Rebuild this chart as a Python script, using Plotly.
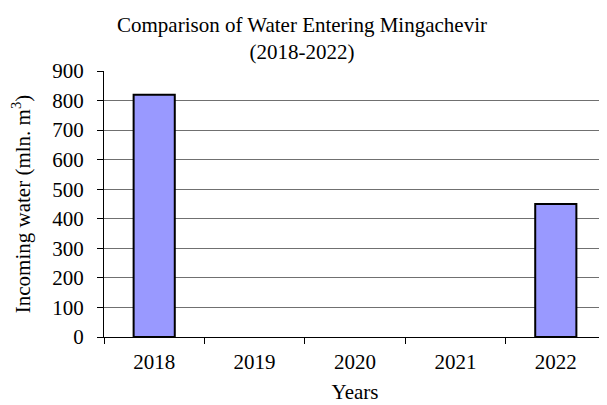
import plotly.graph_objects as go

years = ["2018", "2019", "2020", "2021", "2022"]
incoming_water = [820, 0, 0, 0, 450]
y_ticks = [0, 100, 200, 300, 400, 500, 600, 700, 800, 900]

font = "Liberation Serif"
FS = 21

# page body has an 8px default margin, so the figure is sized to fit the window
W, H = 599, 397

outline_widths = [2 if v > 0 else 0 for v in incoming_water]

fig = go.Figure(
    go.Bar(
        x=years,
        y=incoming_water,
        width=0.41,
        marker=dict(color="#9999FF", line=dict(color="black", width=outline_widths)),
    )
)

fig.update_layout(
    width=W,
    height=H,
    plot_bgcolor="white",
    paper_bgcolor="white",
    margin=dict(l=96, r=1, t=63, b=68, autoexpand=False),
    font=dict(family=font, size=FS, color="black"),
    title=dict(
        text="Comparison of Water Entering Mingachevir<br>(2018-2022)",
        x=294 / W,
        xanchor="center",
        xref="container",
        yref="container",
        y=1 - 24 / H,
        yanchor="top",
        font=dict(family=font, size=FS, color="black"),
    ),
    showlegend=False,
)

fig.update_xaxes(
    type="category",
    automargin=False,
    showline=True,
    linecolor="black",
    linewidth=1,
    ticks="outside",
    tickson="boundaries",
    ticklen=6,
    tickcolor="black",
    ticklabelstandoff=6,
    showgrid=False,
    title=dict(text="Years", standoff=11, font=dict(family=font, size=FS)),
    tickfont=dict(family=font, size=FS),
)

fig.update_yaxes(
    range=[0, 900],
    tickvals=y_ticks,
    automargin=False,
    showline=True,
    linecolor="black",
    linewidth=1,
    ticks="outside",
    ticklen=6,
    tickcolor="black",
    ticklabelstandoff=9,
    showgrid=True,
    gridcolor="#707070",
    gridwidth=1,
    zeroline=False,
    title=dict(text="Incoming water (mln. m<sup>3</sup>)", standoff=23, font=dict(family=font, size=FS)),
    tickfont=dict(family=font, size=FS),
)

fig.add_shape(type="line", xref="paper", yref="paper", x0=1, x1=1, y0=0, y1=1,
              line=dict(color="#808080", width=1))

fig.write_html("out.html")
